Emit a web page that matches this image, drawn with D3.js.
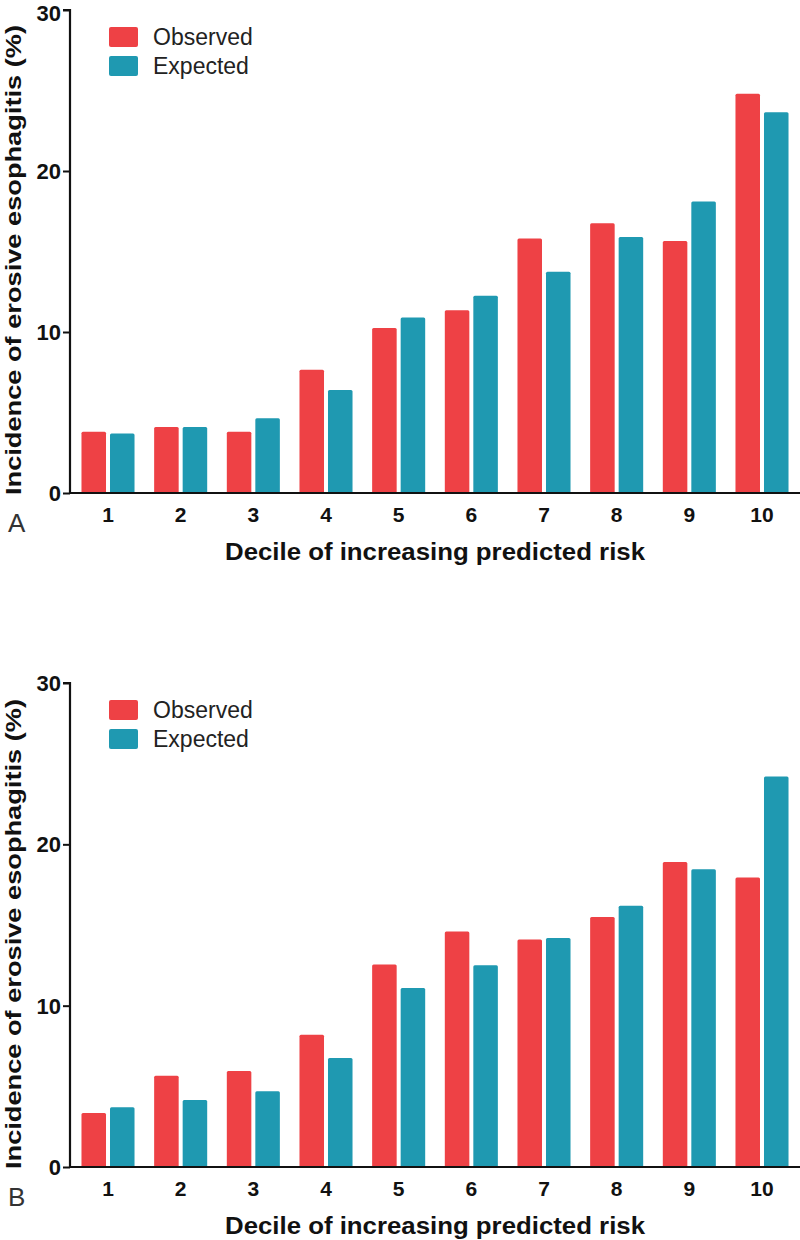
<!DOCTYPE html>
<html><head><meta charset="utf-8">
<script src="https://cdn.jsdelivr.net/npm/d3@7"></script>
<style>body{margin:0;background:#fff}svg{display:block}</style>
</head><body>
<script>
const deciles = ["1","2","3","4","5","6","7","8","9","10"];
const seriesNames = ["Observed","Expected"];
const observedA = [3.8,4.1,3.8,7.65,10.25,11.35,15.8,16.75,15.65,24.8];
const expectedA = [3.7,4.1,4.65,6.4,10.9,12.25,13.75,15.9,18.1,23.65];
const observedB = [3.35,5.65,5.95,8.2,12.55,14.6,14.1,15.5,18.9,17.95];
const expectedB = [3.7,4.15,4.7,6.75,11.1,12.5,14.2,16.2,18.45,24.2];
const yTicks = [0,10,20,30];
const colors = ["#ee4145","#1f99b1"];
const FONT = "'Liberation Sans', Arial, Helvetica, sans-serif";

const svg = d3.select("body").append("svg").attr("width",800).attr("height",1240)
  .style("font-family",FONT);

function panel(obs, exp, top, bottom, letter){
  const g = svg.append("g");
  const x = d3.scaleBand().domain(deciles).range([70,800]).paddingInner(0.27).paddingOuter(0.158);
  const xs = d3.scaleBand().domain(seriesNames).range([0,x.bandwidth()]).paddingInner(0.14);
  const y = d3.scaleLinear().domain([0,30]).range([bottom,top]);
  const rows = deciles.map((d,i)=>({d, vals:[{s:"Observed",v:obs[i]},{s:"Expected",v:exp[i]}]}));
  const grp = g.selectAll("g.cat").data(rows).join("g").attr("transform",r=>`translate(${x(r.d)},0)`);
  grp.selectAll("rect").data(r=>r.vals).join("rect")
    .attr("x",v=>xs(v.s)).attr("width",xs.bandwidth())
    .attr("y",v=>y(v.v)).attr("height",v=>y(0)-y(v.v))
    .attr("rx",1.5)
    .attr("fill",v=>colors[seriesNames.indexOf(v.s)]);
  // y axis
  const ya = g.append("g").attr("transform","translate(70,0)")
    .call(d3.axisLeft(y).tickValues(yTicks).tickSize(7).tickPadding(2));
  ya.attr("font-family",FONT);
  ya.select(".domain").attr("stroke","#111").attr("stroke-width",2.2).attr("d",`M-7,${top}H0V${bottom+1}`);
  ya.selectAll(".tick line").attr("stroke","#111").attr("stroke-width",2);
  ya.selectAll(".tick text").attr("font-size",22).attr("font-weight","bold").attr("fill","#111").attr("dy","0.34em")
    .attr("y",d=>Math.max(0, 13 - y(d)));
  // x axis
  const xa = g.append("g").attr("transform",`translate(0,${bottom})`)
    .call(d3.axisBottom(x).tickSize(0).tickPadding(14));
  xa.attr("font-family",FONT);
  xa.select(".domain").attr("stroke","#111").attr("stroke-width",2.2).attr("d","M69,0H800");
  xa.selectAll(".tick text").attr("font-size",21).attr("font-weight","bold").attr("fill","#111").attr("dy","0.71em");
  // titles
  g.append("text").attr("x",225).attr("y",bottom+67).attr("font-size",23).attr("font-weight","bold").attr("fill","#111")
    .attr("textLength",420).attr("lengthAdjust","spacingAndGlyphs").text("Decile of increasing predicted risk");
  g.append("text").attr("transform",`translate(21,${bottom+2}) rotate(-90)`).attr("font-size",22).attr("font-weight","bold").attr("fill","#111")
    .attr("textLength",470).attr("lengthAdjust","spacingAndGlyphs").text("Incidence of erosive esophagitis (%)");
  g.append("text").attr("x",8).attr("y",bottom+39).attr("font-size",26).attr("fill","#333").text(letter);
  // legend
  const lg = g.append("g").attr("transform",`translate(109,${top+17})`);
  seriesNames.forEach((s,i)=>{
    lg.append("rect").attr("x",0).attr("y",i*29).attr("width",29).attr("height",20).attr("rx",2).attr("fill",colors[i]);
    lg.append("text").attr("x",44).attr("y",i*29+18).attr("font-size",23).attr("fill","#222").text(s);
  });
}
panel(observedA, expectedA, 10, 493, "A");
panel(observedB, expectedB, 683, 1167, "B");
</script>
</body></html>
